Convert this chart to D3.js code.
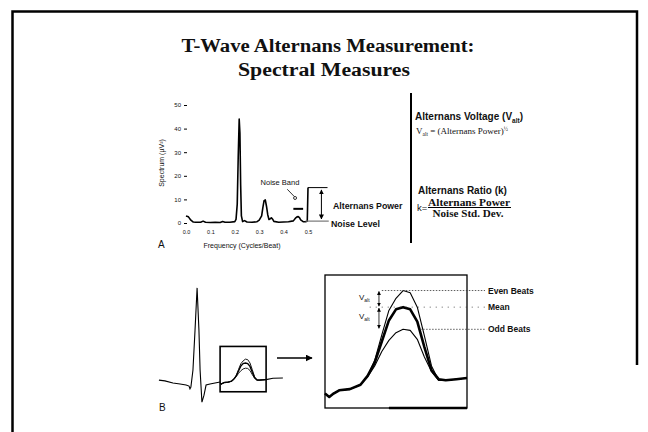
<!DOCTYPE html>
<html>
<head>
<meta charset="utf-8">
<script src="https://cdn.jsdelivr.net/npm/d3@7"></script>
<style>
  body { margin: 0; background: #fff; }
  text { font-family: "Liberation Sans", Arial, sans-serif; fill: #111; }
  .serif { font-family: "Liberation Serif", "Times New Roman", serif; }
</style>
</head>
<body>
<div id="graphic"></div>
<script>
// ---- panel A: power spectrum ----
const spectrumFreq = [0.00, 0.01, 0.02, 0.03, 0.04, 0.06, 0.07, 0.08, 0.10, 0.12, 0.14, 0.15, 0.16, 0.18,
  0.20, 0.205, 0.21, 0.214, 0.218, 0.221, 0.224, 0.227, 0.232, 0.24, 0.25, 0.27, 0.29, 0.30, 0.31, 0.315,
  0.32, 0.325, 0.33, 0.335, 0.34, 0.345, 0.35, 0.355, 0.36, 0.38, 0.40, 0.42, 0.44, 0.45, 0.455, 0.46,
  0.465, 0.47, 0.48, 0.49, 0.497, 0.5]
const spectrumPower = [3.0, 2.6, 1.2, 0.4, 0.3, 0.3, 0.8, 0.3, 0.2, 0.3, 0.2, 0.6, 0.3, 0.3,
  0.6, 1.5, 8, 28, 44, 38, 16, 3, 0.6, 1.0, 0.4, 0.3, 0.5, 1.2, 3, 6.5,
  9.5, 9.8, 7, 3.5, 1.5, 1.8, 2.2, 1.6, 0.7, 0.3, 0.4, 0.5, 0.9, 2.2, 2.6, 2.7,
  2.3, 1.3, 0.6, 0.5, 0.7, 15]
const yTicks = [0, 10, 20, 30, 40, 50]
const xTicks = [0.0, 0.1, 0.2, 0.3, 0.4, 0.5]
const noiseBand = [0.44, 0.48]      // freq range of the noise band marker
const noiseBandLevel = 6
const alternansPower = 15           // µV² at 0.5 cycles/beat
const noiseLevel = 0.8

// ---- panel B: ECG beat and T-wave close-up ----
const ecgTime = [4, 30, 65, 96, 122, 135, 139, 143, 152, 161, 170, 178, 183, 191, 200, 209, 226, 248, 270]
const ecgAmp = [0.05, 0.02, -0.06, -0.10, -0.14, -0.18, -0.29, -0.22, 0.44, 1.98, 3.61, 1.98, 0.44, -0.80, -0.53, -0.14, -0.10, -0.06, -0.02]
const tailTime = [470, 500, 543]
const tailAmp = [0.07, 0.12, 0.13]
const tOnset = 270   // T-wave window start within the beat (ms)

const tTime = [0, 6, 12, 20, 35, 50, 60, 70, 80, 90, 100, 110, 120, 130, 140, 150, 160, 170, 185, 200]
const tEven = [-0.07, -0.10, -0.07, -0.04, -0.03, 0.01, 0.09, 0.23, 0.46, 0.68, 0.79, 0.86, 0.84, 0.71, 0.45, 0.18, 0.05, 0.05, 0.06, 0.07]
const tMean = [-0.07, -0.10, -0.07, -0.04, -0.03, 0.01, 0.09, 0.21, 0.40, 0.59, 0.69, 0.71, 0.69, 0.58, 0.35, 0.14, 0.06, 0.05, 0.06, 0.07]
const tOdd = [-0.07, -0.10, -0.07, -0.04, -0.03, 0.01, 0.08, 0.18, 0.31, 0.41, 0.48, 0.51, 0.50, 0.42, 0.26, 0.13, 0.05, 0.05, 0.06, 0.07]
const smallBoxAmp = [-0.4, 1.35]
const valtTime = 76

const svg = d3.select("#graphic")
  .append("svg")
  .attr("width", 648)
  .attr("height", 432)

// page frame (scanned slide border)
svg.append("path")
  .attr("d", "M12.5,432 L12.5,11.5 L637,11.5 L637,365")
  .attr("fill", "none")
  .attr("stroke", "#000")
  .attr("stroke-width", 2.5)

// title
const title = svg.append("g").attr("class", "serif")
title.append("text").attr("class", "serif")
  .attr("x", 328).attr("y", 52).attr("text-anchor", "middle")
  .attr("font-size", 18).attr("font-weight", "bold")
  .attr("textLength", 293).attr("lengthAdjust", "spacingAndGlyphs")
  .text("T-Wave Alternans Measurement:")
title.append("text").attr("class", "serif")
  .attr("x", 324).attr("y", 76).attr("text-anchor", "middle")
  .attr("font-size", 18).attr("font-weight", "bold")
  .attr("textLength", 172).attr("lengthAdjust", "spacingAndGlyphs")
  .text("Spectral Measures")

// ---------- panel A ----------
const xA = d3.scaleLinear().domain([0, 0.5]).range([186, 308])
const yA = d3.scaleLinear().domain([0, 50]).range([223, 105])

const yAxis = svg.append("g")
  .attr("transform", "translate(187,0)")
  .call(d3.axisLeft(yA).tickValues(yTicks).tickSize(3).tickPadding(3))
yAxis.select(".domain").remove()
yAxis.selectAll("text").attr("font-size", 6)

const xAxis = svg.append("g")
  .attr("transform", "translate(0,223)")
  .call(d3.axisBottom(xA).tickValues(xTicks).tickSize(0).tickPadding(7).tickFormat(d3.format(".1f")))
xAxis.select(".domain").remove()
xAxis.selectAll("text").attr("font-size", 5.5)

svg.append("text")
  .attr("transform", "translate(164,163) rotate(-90)")
  .attr("text-anchor", "middle").attr("font-size", 7)
  .text("Spectrum (\u00b5V\u00b2)")
svg.append("text")
  .attr("x", 242).attr("y", 248).attr("text-anchor", "middle").attr("font-size", 7)
  .text("Frequency (Cycles/Beat)")
svg.append("text").attr("x", 158).attr("y", 248).attr("font-size", 10).text("A")

const spectrum = spectrumFreq.map((f, i) => [f, spectrumPower[i]])
svg.append("path")
  .datum(spectrum)
  .attr("fill", "none")
  .attr("stroke", "#000")
  .attr("stroke-width", 1.6)
  .attr("stroke-linejoin", "round")
  .attr("d", d3.line().x(d => xA(d[0])).y(d => yA(d[1])))

// noise band marker
svg.append("line")
  .attr("x1", xA(noiseBand[0])).attr("x2", xA(noiseBand[1]))
  .attr("y1", yA(noiseBandLevel)).attr("y2", yA(noiseBandLevel))
  .attr("stroke", "#000").attr("stroke-width", 2)
svg.append("text")
  .attr("x", xA(0.385)).attr("y", yA(16)).attr("text-anchor", "middle").attr("font-size", 7.5)
  .text("Noise Band")
svg.append("line")
  .attr("x1", xA(0.415)).attr("y1", yA(14.3)).attr("x2", xA(0.444)).attr("y2", yA(11.2))
  .attr("stroke", "#000").attr("stroke-width", 0.8)
svg.append("circle")
  .attr("cx", xA(0.447)).attr("cy", yA(10.6)).attr("r", 1.5)
  .attr("fill", "#fff").attr("stroke", "#000").attr("stroke-width", 0.8)

// alternans power / noise level annotation
const defs = svg.append("defs")
defs.append("marker")
  .attr("id", "head").attr("viewBox", "0 0 10 10")
  .attr("refX", 9).attr("refY", 5)
  .attr("markerWidth", 5).attr("markerHeight", 5)
  .attr("orient", "auto-start-reverse")
  .append("path").attr("d", "M0,0 L10,5 L0,10 z").attr("fill", "#000")

svg.append("line")
  .attr("x1", xA(0.5)).attr("x2", xA(0.58))
  .attr("y1", yA(alternansPower)).attr("y2", yA(alternansPower))
  .attr("stroke", "#000").attr("stroke-width", 1)
svg.append("line")
  .attr("x1", xA(0.49)).attr("x2", xA(0.585))
  .attr("y1", yA(noiseLevel)).attr("y2", yA(noiseLevel))
  .attr("stroke", "#777").attr("stroke-width", 1.2)
svg.append("line")
  .attr("x1", xA(0.555)).attr("x2", xA(0.555))
  .attr("y1", yA(alternansPower - 1)).attr("y2", yA(noiseLevel + 0.9))
  .attr("stroke", "#000").attr("stroke-width", 1)
  .attr("marker-start", "url(#head)").attr("marker-end", "url(#head)")
svg.append("text").attr("x", 333).attr("y", 209).attr("font-size", 8.8).attr("font-weight", "bold")
  .text("Alternans Power")
svg.append("text").attr("x", 331).attr("y", 227).attr("font-size", 8.8).attr("font-weight", "bold")
  .text("Noise Level")

// divider
svg.append("line")
  .attr("x1", 411).attr("x2", 411).attr("y1", 93).attr("y2", 243)
  .attr("stroke", "#000").attr("stroke-width", 2)

// formulas
const f1 = svg.append("text").attr("x", 415).attr("y", 120).attr("font-size", 10).attr("font-weight", "bold")
f1.append("tspan").text("Alternans Voltage (V")
f1.append("tspan").attr("font-size", 6.5).attr("dy", 2.5).text("alt")
f1.append("tspan").attr("dy", -2.5).text(")")

const f2 = svg.append("text").attr("class", "serif").attr("x", 416).attr("y", 134).attr("font-size", 9)
f2.append("tspan").text("V")
f2.append("tspan").attr("font-size", 5.5).attr("dy", 2).text("alt")
f2.append("tspan").attr("dy", -2).text(" = (Alternans Power)")
f2.append("tspan").attr("font-size", 5.5).attr("dy", -3.5).text("\u00bd")

svg.append("text").attr("x", 418).attr("y", 194).attr("font-size", 10).attr("font-weight", "bold")
  .text("Alternans Ratio (k)")
svg.append("text").attr("x", 417).attr("y", 210.5).attr("font-size", 9.5).text("k=")
svg.append("text").attr("class", "serif").attr("x", 469).attr("y", 205.5).attr("text-anchor", "middle")
  .attr("font-size", 10.5).attr("font-weight", "bold")
  .attr("textLength", 82).attr("lengthAdjust", "spacingAndGlyphs").text("Alternans Power")
svg.append("line").attr("x1", 428).attr("x2", 511).attr("y1", 207.5).attr("y2", 207.5)
  .attr("stroke", "#000").attr("stroke-width", 1)
svg.append("text").attr("class", "serif").attr("x", 468).attr("y", 217).attr("text-anchor", "middle")
  .attr("font-size", 10.5).attr("font-weight", "bold")
  .attr("textLength", 71).attr("lengthAdjust", "spacingAndGlyphs").text("Noise Std. Dev.")

// ---------- panel B ----------
const xS = d3.scaleLinear().domain([0, 560]).range([158, 286.8])
const yS = d3.scaleLinear().domain([-1, 4]).range([407.3, 277.8])
const xB = d3.scaleLinear().domain([0, 200]).range([325, 467])
const yB = d3.scaleLinear().domain([-0.2, 1.0]).range([408, 275])

const lineS = d3.line().x(d => xS(d[0])).y(d => yS(d[1]))
const lineB = d3.line().x(d => xB(d[0])).y(d => yB(d[1]))

svg.append("path")
  .datum(ecgTime.map((t, i) => [t, ecgAmp[i]]))
  .attr("fill", "none").attr("stroke", "#000").attr("stroke-width", 1.1)
  .attr("d", lineS)
svg.append("path")
  .datum(tailTime.map((t, i) => [t, tailAmp[i]]))
  .attr("fill", "none").attr("stroke", "#000").attr("stroke-width", 1.1)
  .attr("d", lineS)

const beats = [
  { key: "even", amp: tEven, w: 0.9 },
  { key: "mean", amp: tMean, w: 1.4 },
  { key: "odd", amp: tOdd, w: 0.9 }
]
beats.forEach(b => {
  svg.append("path")
    .datum(tTime.map((t, i) => [t + tOnset, b.amp[i]]))
    .attr("fill", "none").attr("stroke", "#000").attr("stroke-width", b.w)
    .attr("d", lineS)
})

// small box around the T wave
svg.append("rect")
  .attr("x", xS(tOnset)).attr("y", yS(smallBoxAmp[1]))
  .attr("width", xS(tOnset + 200) - xS(tOnset))
  .attr("height", yS(smallBoxAmp[0]) - yS(smallBoxAmp[1]))
  .attr("fill", "none").attr("stroke", "#000").attr("stroke-width", 1.6)

svg.append("line")
  .attr("x1", 277).attr("x2", 312).attr("y1", 358).attr("y2", 358)
  .attr("stroke", "#000").attr("stroke-width", 1.4)
  .attr("marker-end", "url(#head)")
svg.append("text").attr("x", 159).attr("y", 411).attr("font-size", 10).text("B")

// close-up
svg.append("rect")
  .attr("x", xB(0)).attr("y", yB(1.0))
  .attr("width", xB(200) - xB(0)).attr("height", yB(-0.2) - yB(1.0))
  .attr("fill", "none").attr("stroke", "#000").attr("stroke-width", 1.3)
svg.append("line")
  .attr("x1", xB(90)).attr("x2", xB(200)).attr("y1", yB(-0.2)).attr("y2", yB(-0.2))
  .attr("stroke", "#000").attr("stroke-width", 2.5)

beats.forEach(b => {
  svg.append("path")
    .datum(tTime.map((t, i) => [t, b.amp[i]]))
    .attr("fill", "none").attr("stroke", "#000")
    .attr("stroke-width", b.key === "mean" ? 2.6 : 1.1)
    .attr("stroke-linejoin", "round")
    .attr("d", lineB)
})

const peak = arr => d3.max(arr)
const guides = [
  { label: "Even Beats", v: peak(tEven), from: 80, dash: "1.5,1.5" },
  { label: "Mean", v: peak(tMean), from: 63, dash: "1,5" },
  { label: "Odd Beats", v: peak(tOdd), from: 134, dash: "1.5,1.5" }
]
guides.forEach(g => {
  svg.append("line")
    .attr("x1", xB(g.from)).attr("x2", 485)
    .attr("y1", yB(g.v)).attr("y2", yB(g.v))
    .attr("stroke", "#333").attr("stroke-width", 0.8)
    .attr("stroke-dasharray", g.dash)
  svg.append("text")
    .attr("x", 488).attr("y", yB(g.v) + 3)
    .attr("font-size", 8.5).attr("font-weight", "bold")
    .text(g.label)
})

// V_alt arrows
const valt = [[peak(tEven), peak(tMean)], [peak(tMean), peak(tOdd)]]
valt.forEach(p => {
  svg.append("line")
    .attr("x1", xB(valtTime)).attr("x2", xB(valtTime))
    .attr("y1", yB(p[0]) + 1).attr("y2", yB(p[1]) - 1)
    .attr("stroke", "#000").attr("stroke-width", 0.8)
    .attr("marker-start", "url(#head)").attr("marker-end", "url(#head)")
  const t = svg.append("text").attr("x", 359).attr("y", (yB(p[0]) + yB(p[1])) / 2 + 1).attr("font-size", 8)
  t.append("tspan").text("V")
  t.append("tspan").attr("font-size", 5).attr("dy", 2).text("alt")
})
</script>
</body>
</html>
